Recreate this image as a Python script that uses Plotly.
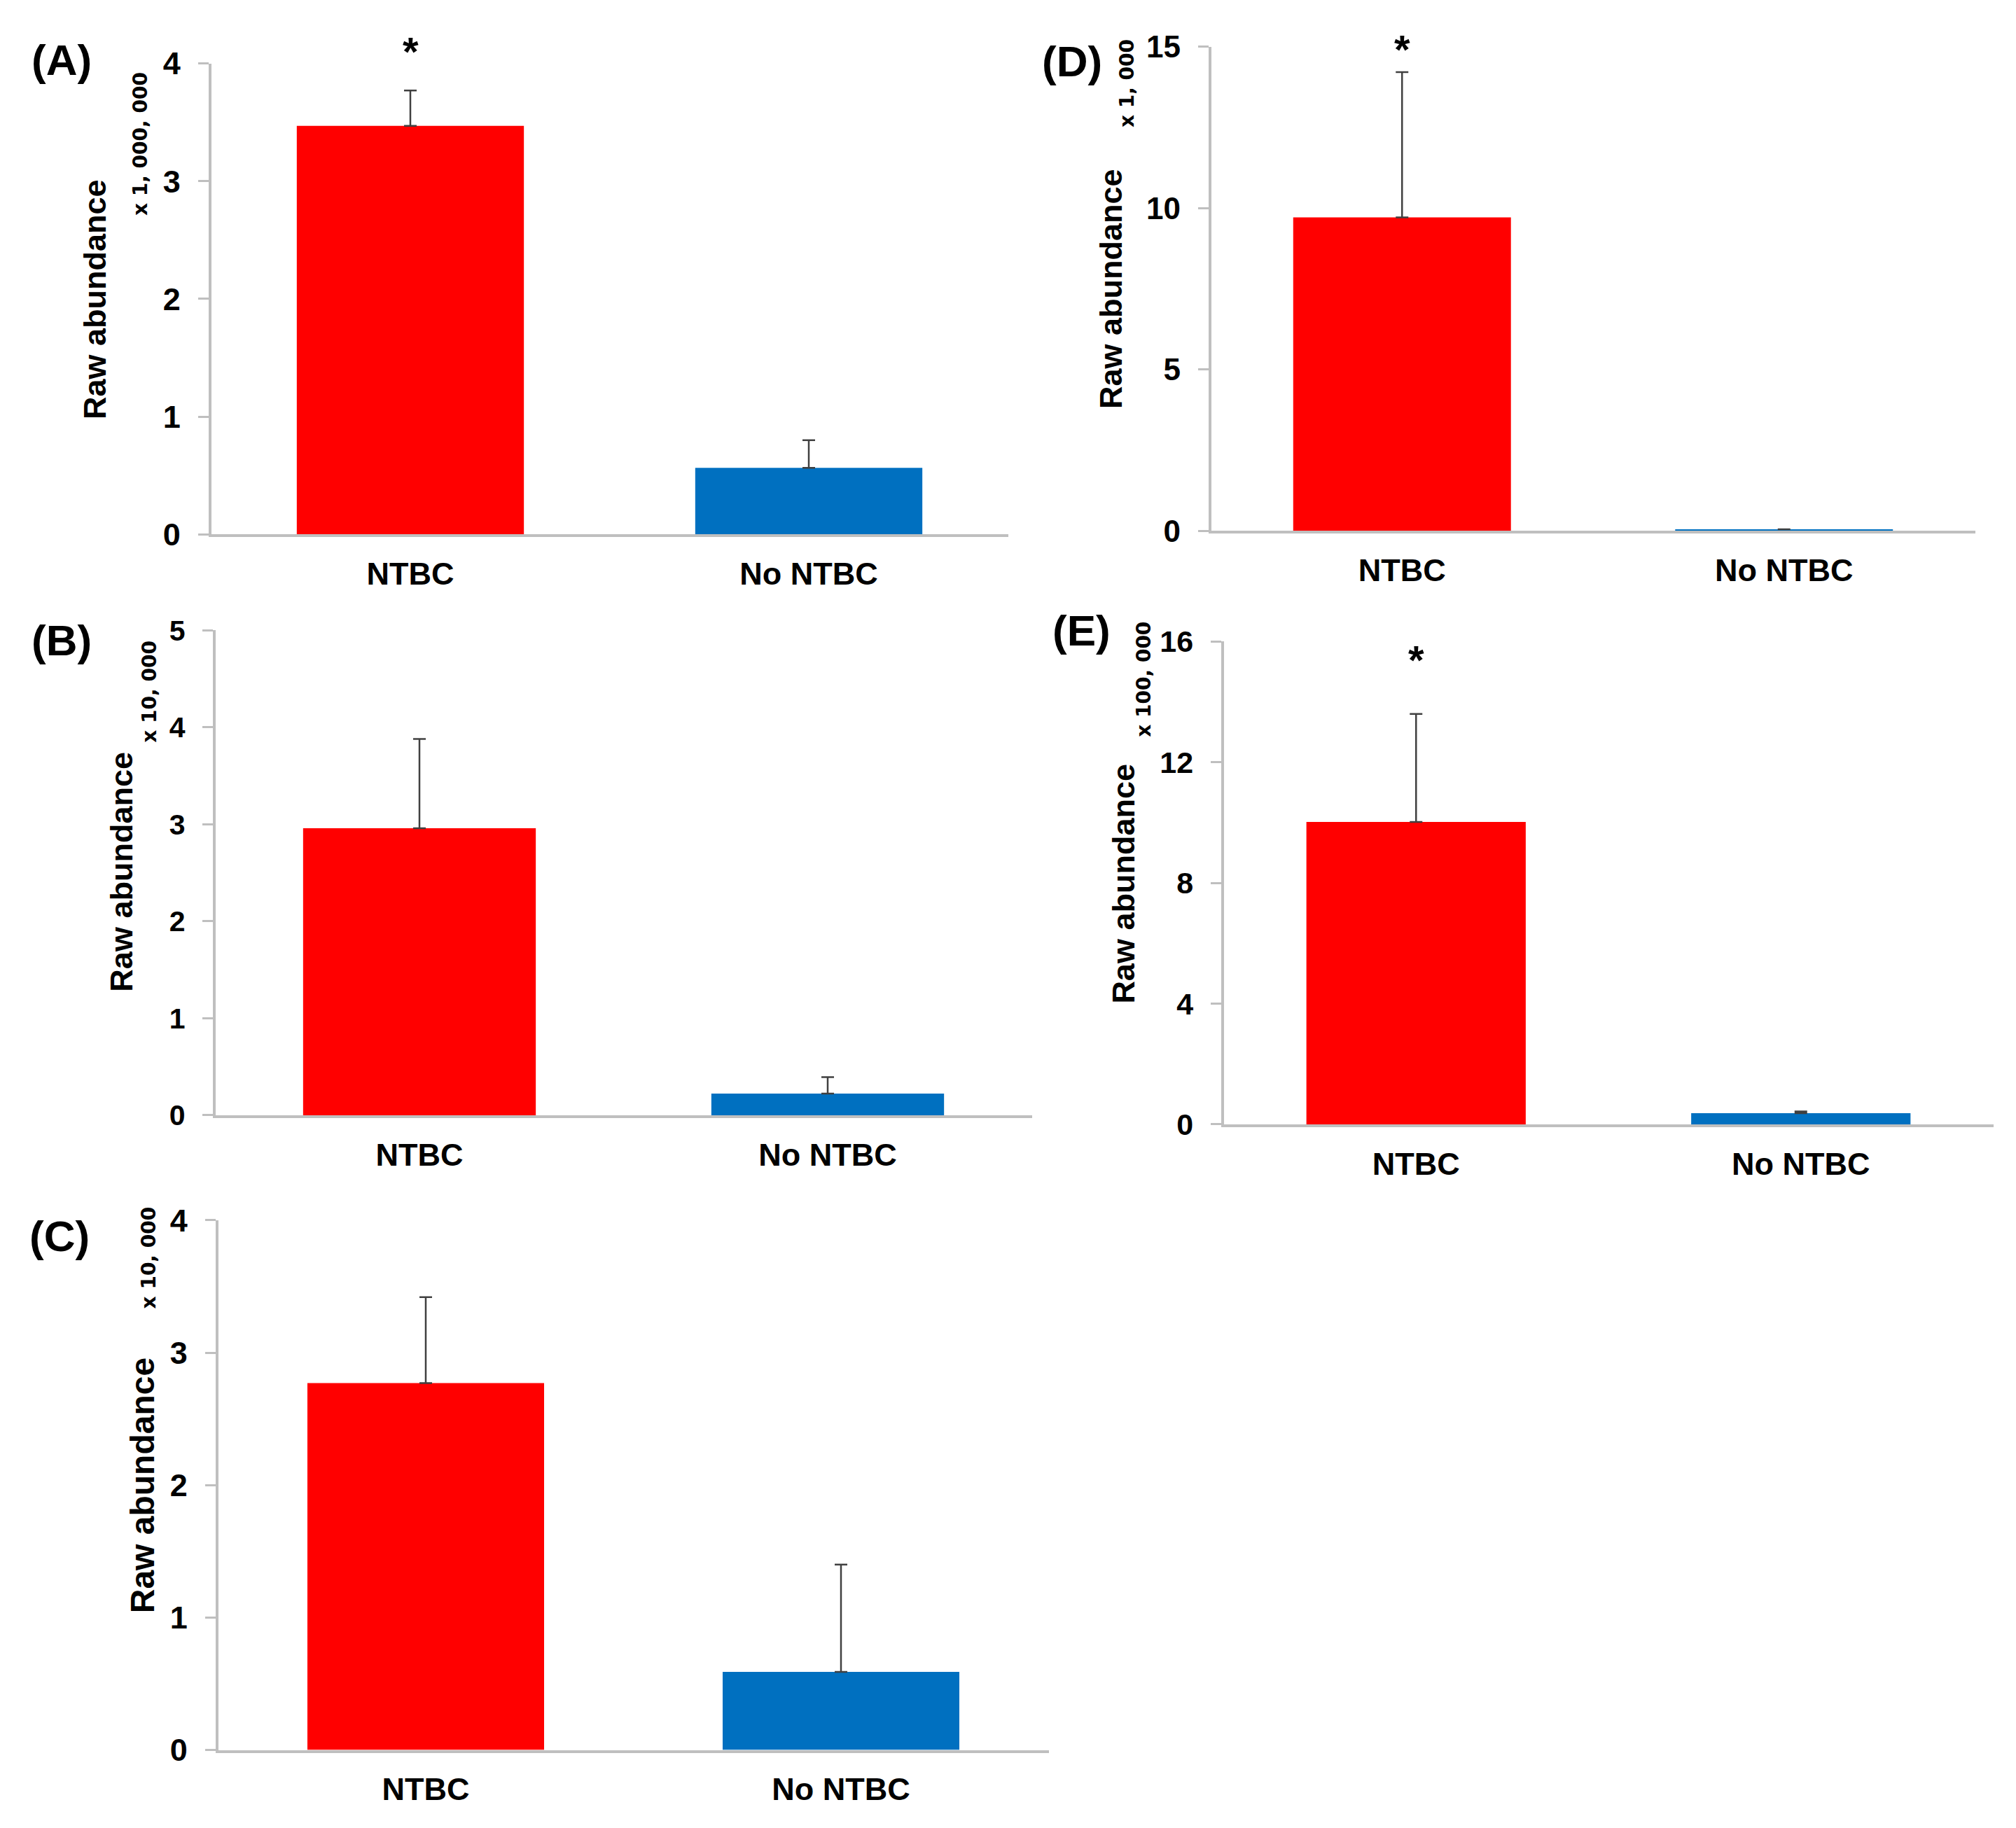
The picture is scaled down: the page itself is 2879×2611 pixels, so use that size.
import plotly.graph_objects as go

W, H = 2879, 2611

categories = ["NTBC", "No NTBC"]

panel_letters = ["(A)", "(B)", "(C)", "(D)", "(E)"]
multipliers = ["x 1, 000, 000", "x 10, 000", "x 10, 000", "x 1, 000", "x 100, 000"]

a_values = [3.47, 0.565]
a_errors = [0.30, 0.235]
b_values = [2.96, 0.224]
b_errors = [0.92, 0.17]
c_values = [2.77, 0.59]
c_errors = [0.65, 0.81]
d_values = [9.71, 0.05]
d_errors = [4.50, 0.0]
e_values = [10.02, 0.37]
e_errors = [3.58, 0.06]

y_ranges = [[0, 4], [0, 5], [0, 4], [0, 15], [0, 16]]
y_dticks = [1, 1, 1, 5, 4]
significant = [True, False, False, True, True]

values = [a_values, b_values, c_values, d_values, e_values]
errors = [a_errors, b_errors, c_errors, d_errors, e_errors]

bar_colors = ["#FF0000", "#0070C0"]

boxes = [
    (302, 1440, 90, 763),
    (308, 1474, 900, 1593),
    (312, 1498, 1743, 2500),
    (1730, 2821, 66, 758),
    (1748, 2847, 916, 1606),
]
letter_pos = [(88, 85), (88, 914), (85, 1766), (1532, 87), (1545, 900)]
title_pos = [(136, 427), (174, 1245), (204, 2122), (1587, 412), (1605, 1262)]
title_size = [45, 45, 48, 45, 45]
mult_pos = [(201, 205), (214, 988), (213, 1797), (1610, 118), (1634, 970)]
star_pos = [73, None, None, 70, 942]
tick_size = [45, 41, 45, 44, 43]

# correction for the way the page is photographed (body margin / vertical squeeze)
SX, OX = 1.0, -8.5
SY, OY = 1.0195, -33.0


def px(x):
    return (SX * x + OX) / W


def py(y):
    return 1 - (SY * y + OY) / H


fig = go.Figure()
annotations = []
font_main = "Liberation Sans, Arial, sans-serif"

for i in range(5):
    xa = "x" if i == 0 else f"x{i+1}"
    ya = "y" if i == 0 else f"y{i+1}"
    fig.add_trace(go.Bar(
        x=categories, y=values[i],
        marker=dict(color=bar_colors, line=dict(width=0)),
        width=0.57,
        error_y=dict(type="data", array=errors[i], arrayminus=[0, 0], symmetric=False,
                     color="#404040", thickness=2.5, width=9),
        xaxis=xa, yaxis=ya, showlegend=False,
    ))
    x0, x1, yt, yb = boxes[i]
    xkey = "xaxis" if i == 0 else f"xaxis{i+1}"
    ykey = "yaxis" if i == 0 else f"yaxis{i+1}"
    fig.layout[xkey] = dict(
        domain=[px(x0), px(x1)], anchor=ya, range=[-0.5, 1.5],
        showline=True, linecolor="#BFBFBF", linewidth=3.5, ticks="",
        showgrid=False, zeroline=False, fixedrange=True,
        tickfont=dict(family=font_main, size=45, color="#000000", weight="bold"),
        ticklabelstandoff=14,
    )
    fig.layout[ykey] = dict(
        domain=[py(yb), py(yt)], anchor=xa, range=y_ranges[i],
        dtick=y_dticks[i], tick0=0,
        showline=True, linecolor="#BFBFBF", linewidth=3.5,
        ticks="outside", ticklen=15, tickwidth=3, tickcolor="#BFBFBF",
        showgrid=False, zeroline=False, fixedrange=True,
        tickfont=dict(family=font_main, size=tick_size[i], color="#000000", weight="bold"),
        ticklabelstandoff=16,
    )
    lx, ly = letter_pos[i]
    annotations.append(dict(
        text=panel_letters[i], x=px(lx), y=py(ly), xref="paper", yref="paper",
        xanchor="center", yanchor="middle", showarrow=False,
        font=dict(family=font_main, size=62, color="#000000", weight="bold"),
    ))
    tx, ty = title_pos[i]
    annotations.append(dict(
        text="Raw abundance", x=px(tx), y=py(ty), xref="paper", yref="paper",
        xanchor="center", yanchor="middle", showarrow=False, textangle=-90,
        font=dict(family=font_main, size=title_size[i], color="#000000", weight="bold"),
    ))
    mx, my = mult_pos[i]
    annotations.append(dict(
        text=multipliers[i], x=px(mx), y=py(my), xref="paper", yref="paper",
        xanchor="center", yanchor="middle", showarrow=False, textangle=-90,
        font=dict(family="DejaVu Sans, sans-serif", size=28, color="#000000", weight="bold"),
    ))
    if significant[i]:
        annotations.append(dict(
            text="*", x=categories[0], y=py(star_pos[i]), xref=xa, yref="paper",
            xanchor="center", yanchor="middle", showarrow=False,
            font=dict(family=font_main, size=58, color="#000000", weight="bold"),
        ))

fig.update_layout(
    width=W, height=H,
    margin=dict(l=0, r=0, t=0, b=0),
    paper_bgcolor="#FFFFFF", plot_bgcolor="#FFFFFF",
    annotations=annotations,
)

fig.write_html("out.html")
